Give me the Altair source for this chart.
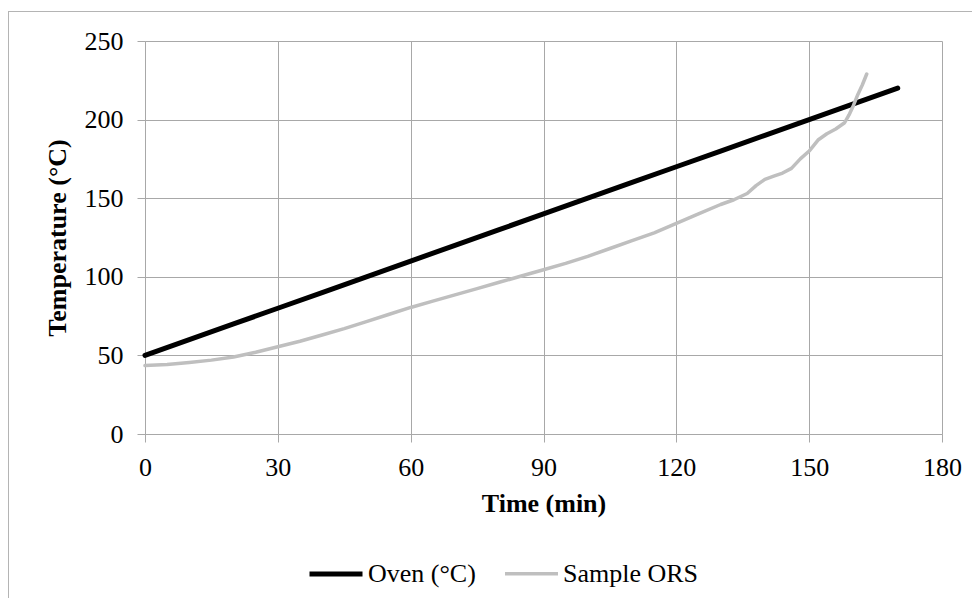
import altair as alt
import pandas as pd

# Oven temperature (°C) vs time (min)
oven_t = [0, 10, 20, 30, 40, 50, 60, 70, 80, 90, 100, 110, 120, 130, 140, 150, 160, 170]
oven_v = [50, 60, 70, 80, 90, 100, 110, 120, 130, 140, 150, 160, 170, 180, 190, 200, 210, 220]

# Sample ORS temperature (°C) vs time (min)
sample_t = [0, 5, 10, 15, 20, 25, 30, 35, 40, 45, 50, 55, 60, 65, 70, 75, 80, 85, 90, 95,
            100, 105, 110, 115, 120, 125, 130, 133, 136, 138, 140, 142, 144, 146, 148,
            150, 152, 154, 156, 158, 159, 160, 161, 162, 163]
sample_v = [43.5, 44.2, 45.5, 47, 49, 52, 55.5, 59, 63, 67, 71.5, 76, 80.5, 84.5, 88.5, 92.5, 96.5, 100.5, 104.5, 108.5,
            113, 118, 123, 128, 134, 140, 146, 149, 153, 158, 162, 164, 166, 169, 175,
            180, 187, 191, 194, 198, 203, 209, 216, 222, 229]

series_names = ["Oven (°C)", "Sample ORS"]
series_colors = ["#000000", "#bfbfbf"]
series_widths = [5, 3.5]

x_ticks = [0, 30, 60, 90, 120, 150, 180]
y_ticks = [0, 50, 100, 150, 200, 250]

df = pd.concat([
    pd.DataFrame({"t": oven_t, "v": oven_v, "series": series_names[0], "o": range(len(oven_t))}),
    pd.DataFrame({"t": sample_t, "v": sample_v, "series": series_names[1], "o": range(len(sample_t))}),
])

FONT = "Liberation Serif"

legend = alt.Legend(
    title=None, orient="none", legendX=162, legendY=504, direction="horizontal",
    symbolType="stroke", symbolSize=2809, labelFont=FONT, labelFontSize=26,
    labelColor="#000000", labelOffset=3, columnPadding=22, padding=0,
)

lines = alt.Chart(df).mark_line(strokeCap="round", strokeJoin="round").encode(
    x=alt.X("t:Q", scale=alt.Scale(domain=[0, 180], nice=False),
            axis=alt.Axis(values=x_ticks, title="Time (min)", titlePadding=10, labelFlush=False)),
    y=alt.Y("v:Q", scale=alt.Scale(domain=[0, 250], nice=False),
            axis=alt.Axis(values=y_ticks, title="Temperature (°C)", titlePadding=14)),
    color=alt.Color("series:N", scale=alt.Scale(domain=series_names, range=series_colors), legend=legend),
    strokeWidth=alt.StrokeWidth("series:N", scale=alt.Scale(domain=series_names, range=series_widths), legend=legend),
    order="o:Q",
)

frame_df = pd.DataFrame({"a": [0]})
frame_left = alt.Chart(frame_df).mark_rule(color="#b4b4b4", strokeWidth=1).encode(
    x=alt.value(-136.5), y=alt.value(-30), y2=alt.value(600)
)
frame_top = alt.Chart(frame_df).mark_rule(color="#b4b4b4", strokeWidth=1).encode(
    x=alt.value(-136.5), x2=alt.value(900), y=alt.value(-29.5)
)

chart = alt.layer(frame_left, frame_top, lines).properties(
    width=797, height=393,
    autosize=alt.AutoSizeParams(type="none"),
    padding={"left": 137, "top": 33, "right": 30, "bottom": 164},
).configure_view(stroke=None).configure_axis(
    labelFont=FONT, labelFontSize=26, labelColor="#000000",
    titleFont=FONT, titleFontSize=26, titleFontWeight="bold", titleColor="#000000",
    gridColor="#a8a8a8", gridWidth=1, gridOpacity=1,
    domainColor="#a8a8a8", domainWidth=1,
    tickColor="#a8a8a8", tickSize=8, tickWidth=1,
    labelPadding=12,
).configure_axisY(labelPadding=14).configure_legend(
    labelFont=FONT, labelFontSize=26, labelColor="#000000"
)

chart.save("out.html", embed_options={"renderer": "svg", "actions": False})
